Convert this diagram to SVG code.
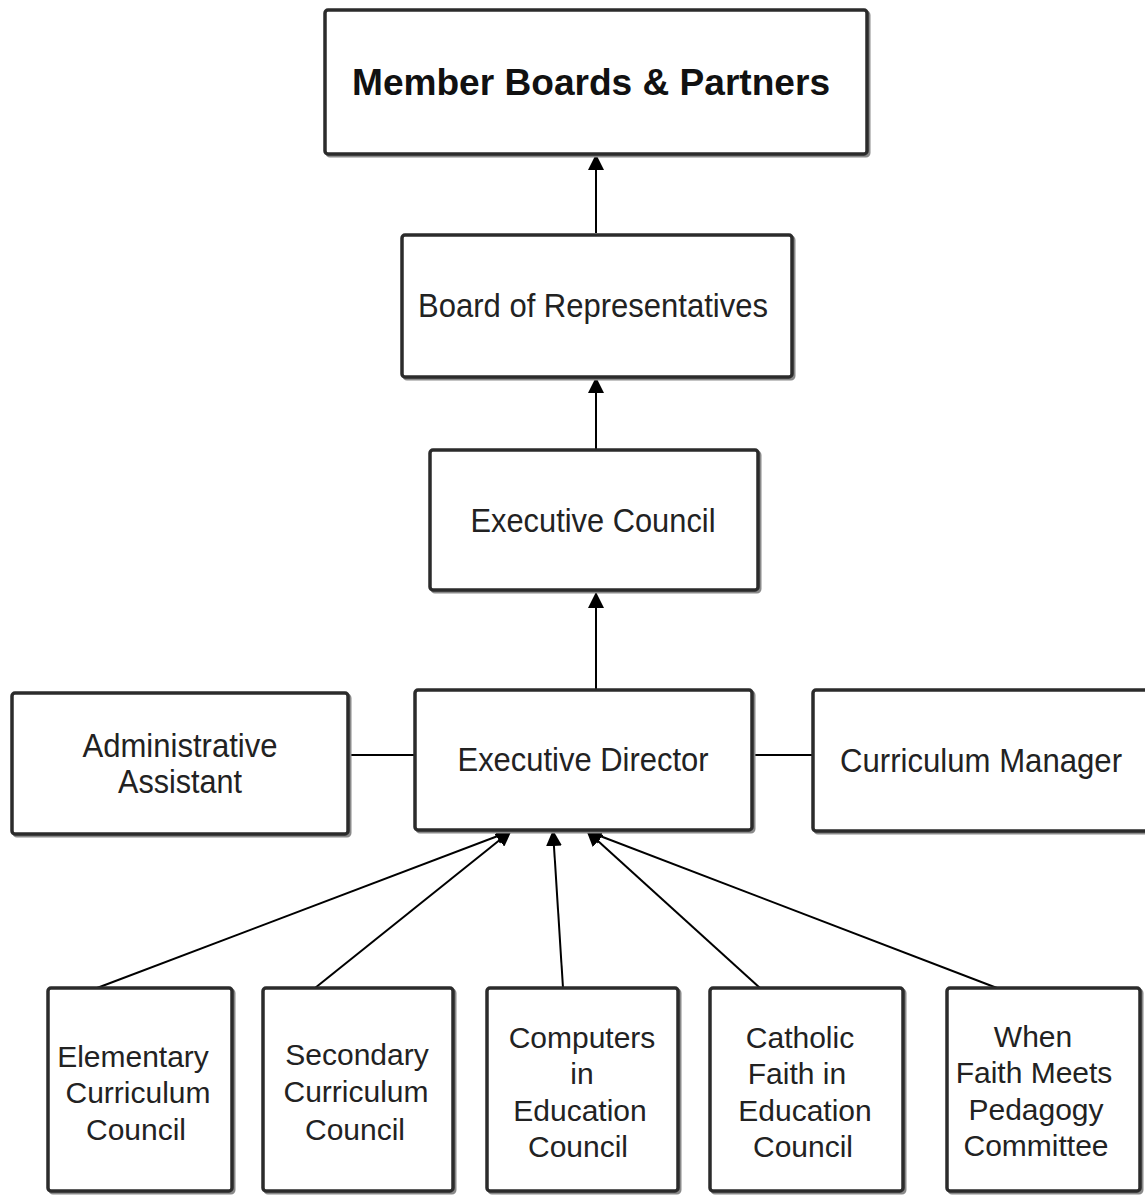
<svg xmlns="http://www.w3.org/2000/svg" width="1145" height="1195" viewBox="0 0 1145 1195">
<defs>
<marker id="arr" markerUnits="userSpaceOnUse" markerWidth="16" markerHeight="16" refX="15" refY="8" orient="auto">
<path d="M0,0 L16,8 L0,16 z" fill="#000"/>
</marker>
</defs>
<style>
.sh{fill:none;stroke:#8a8a8a;stroke-width:3}
.bx{fill:#fff;stroke:#2b2b2b;stroke-width:3.5}
.t{font-family:"Liberation Sans",Arial,sans-serif;font-size:30px;fill:#222;text-anchor:middle}
.tl{font-family:"Liberation Sans",Arial,sans-serif;font-size:33px;fill:#222;text-anchor:middle}
.tb{font-family:"Liberation Sans",Arial,sans-serif;font-size:36px;font-weight:bold;fill:#111;text-anchor:middle}
.c{stroke:#000;stroke-width:2;fill:none}
</style>
<rect width="1145" height="1195" fill="#fff"/>
<g id="connectors">
<line class="c" x1="596" y1="233" x2="596" y2="155" marker-end="url(#arr)"/>
<line class="c" x1="596" y1="450" x2="596" y2="378" marker-end="url(#arr)"/>
<line class="c" x1="596" y1="690" x2="596" y2="593" marker-end="url(#arr)"/>
<line class="c" x1="349" y1="755" x2="416" y2="755"/>
<line class="c" x1="752" y1="755" x2="813" y2="755"/>
<line class="c" x1="97" y1="988" x2="511" y2="831" marker-end="url(#arr)"/>
<line class="c" x1="315" y1="988" x2="511" y2="831" marker-end="url(#arr)"/>
<line class="c" x1="563" y1="988" x2="553" y2="831" marker-end="url(#arr)"/>
<line class="c" x1="760" y1="988" x2="587" y2="831" marker-end="url(#arr)"/>
<line class="c" x1="997" y1="988" x2="587" y2="831" marker-end="url(#arr)"/>
</g>
<g id="member-boards">
<rect class="sh" x="327" y="12" width="542" height="144" rx="3"/>
<rect class="bx" x="325" y="10" width="542" height="144" rx="3"/>
<text class="tb" x="591" y="95" textLength="478" lengthAdjust="spacingAndGlyphs">Member Boards &amp; Partners</text>
</g>
<g id="board-of-representatives">
<rect class="sh" x="404" y="237" width="390" height="142" rx="3"/>
<rect class="bx" x="402" y="235" width="390" height="142" rx="3"/>
<text class="tl" x="593" y="317" textLength="350" lengthAdjust="spacingAndGlyphs">Board of Representatives</text>
</g>
<g id="executive-council">
<rect class="sh" x="432" y="452" width="328" height="140" rx="3"/>
<rect class="bx" x="430" y="450" width="328" height="140" rx="3"/>
<text class="tl" x="593" y="532" textLength="245" lengthAdjust="spacingAndGlyphs">Executive Council</text>
</g>
<g id="executive-director">
<rect class="sh" x="417" y="692" width="337" height="140" rx="3"/>
<rect class="bx" x="415" y="690" width="337" height="140" rx="3"/>
<text class="tl" x="583" y="771" textLength="251" lengthAdjust="spacingAndGlyphs">Executive Director</text>
</g>
<g id="administrative-assistant">
<rect class="sh" x="14" y="695" width="336" height="141" rx="3"/>
<rect class="bx" x="12" y="693" width="336" height="141" rx="3"/>
<text class="tl" x="180" y="757" textLength="195" lengthAdjust="spacingAndGlyphs">Administrative</text>
<text class="tl" x="180" y="793" textLength="124" lengthAdjust="spacingAndGlyphs">Assistant</text>
</g>
<g id="curriculum-manager">
<rect class="sh" x="815" y="692" width="340" height="141" rx="3"/>
<rect class="bx" x="813" y="690" width="340" height="141" rx="3"/>
<text class="tl" x="981" y="772" textLength="282" lengthAdjust="spacingAndGlyphs">Curriculum Manager</text>
</g>
<g id="elementary-council">
<rect class="sh" x="50" y="990" width="184" height="203" rx="3"/>
<rect class="bx" x="48" y="988" width="184" height="203" rx="3"/>
<text class="t" x="133" y="1067">Elementary</text>
<text class="t" x="138" y="1103">Curriculum</text>
<text class="t" x="136" y="1140">Council</text>
</g>
<g id="secondary-council">
<rect class="sh" x="265" y="990" width="190" height="203" rx="3"/>
<rect class="bx" x="263" y="988" width="190" height="203" rx="3"/>
<text class="t" x="357" y="1065">Secondary</text>
<text class="t" x="356" y="1102">Curriculum</text>
<text class="t" x="355" y="1140">Council</text>
</g>
<g id="computers-council">
<rect class="sh" x="489" y="990" width="191" height="203" rx="3"/>
<rect class="bx" x="487" y="988" width="191" height="203" rx="3"/>
<text class="t" x="582" y="1048">Computers</text>
<text class="t" x="582" y="1084">in</text>
<text class="t" x="580" y="1121">Education</text>
<text class="t" x="578" y="1157">Council</text>
</g>
<g id="catholic-faith-council">
<rect class="sh" x="712" y="990" width="193" height="203" rx="3"/>
<rect class="bx" x="710" y="988" width="193" height="203" rx="3"/>
<text class="t" x="800" y="1048">Catholic</text>
<text class="t" x="797" y="1084">Faith in</text>
<text class="t" x="805" y="1121">Education</text>
<text class="t" x="803" y="1157">Council</text>
</g>
<g id="faith-meets-pedagogy">
<rect class="sh" x="949" y="990" width="193" height="203" rx="3"/>
<rect class="bx" x="947" y="988" width="193" height="203" rx="3"/>
<text class="t" x="1033" y="1047">When</text>
<text class="t" x="1034" y="1083">Faith Meets</text>
<text class="t" x="1036" y="1120">Pedagogy</text>
<text class="t" x="1036" y="1156">Committee</text>
</g>
</svg>
